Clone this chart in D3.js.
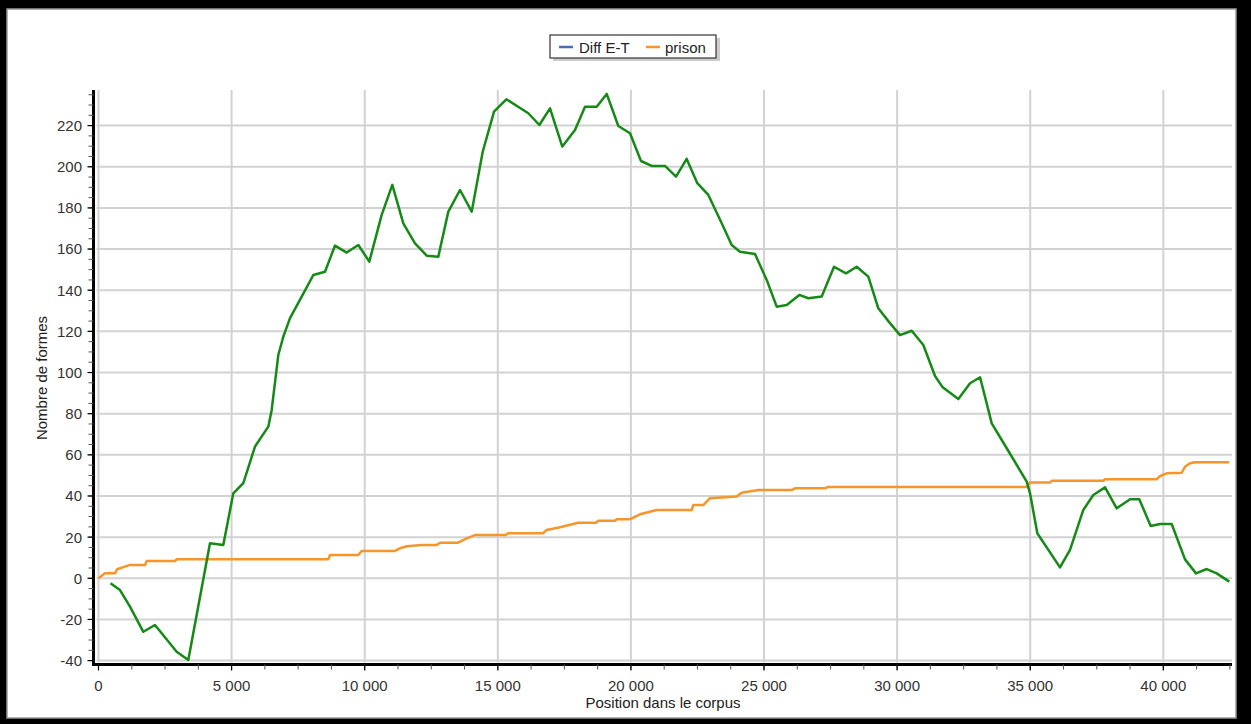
<!DOCTYPE html>
<html>
<head>
<meta charset="utf-8">
<script src="https://cdn.jsdelivr.net/npm/d3@7"></script>
<style>
  html, body { margin: 0; padding: 0; background: #000; }
  svg { display: block; font-family: "Liberation Sans", Arial, sans-serif; }
  .tick-label { font-size: 15px; fill: #333; }
  .axis-title { font-size: 15px; fill: #222; }
</style>
</head>
<body>
<div id="chart"></div>
<script>
// Series "Diff E-T" (drawn in green) : position in corpus / value
const diffPos = [450, 808, 1183, 1683, 2122, 2937, 3373, 4188, 4688, 5064, 5440, 5879, 6379, 6506, 6754,
  6942, 7194, 7633, 8070, 8509, 8884, 9323, 9760, 10173, 10638, 11037, 11450, 11890, 12329, 12765,
  13141, 13580, 14020, 14433, 14858, 15320, 16146, 16560, 16961, 17423, 17900, 18276, 18715, 19091,
  19527, 19966, 20379, 20781, 21281, 21694, 22096, 22495, 22908, 23411, 23786, 24098, 24662, 25101,
  25477, 25853, 26327, 26665, 27167, 27630, 28081, 28483, 28918, 29294, 29700, 30109, 30549, 30984,
  31424, 31700, 32300, 32740, 33116, 33554, 34118, 34868, 34993, 35267, 36119, 36495, 36995, 37370,
  37810, 38250, 38750, 39098, 39526, 39876, 40315, 40815, 41228, 41630, 42005, 42479];
const diffVal = [-2.4, -5.7, -13.8, -26, -22.7, -35.7, -39.7, 17, 16.2, 41.3, 46.2, 64, 73.7, 81.8, 108.5,
  117.4, 126.4, 136.9, 147.4, 149, 161.7, 158.3, 162, 153.9, 176.6, 191.2, 172.5, 162.8, 156.8, 156.3,
  178.2, 188.7, 178.2, 207.3, 226.8, 232.8, 226, 220.3, 228.4, 209.8, 217.9, 229.2, 229.2, 235.4,
  219.8, 216.3, 202.8, 200.4, 200.4, 195.2, 203.8, 192, 186.3, 172.5, 162, 158.7, 157.6, 145,
  132, 132.8, 137.7, 136.1, 136.9, 151.4, 148.2, 151.4, 146.6, 131.2, 124.5, 118.2, 120.3, 113.4,
  98.3, 93, 87.1, 94.8, 97.7, 75.3, 63.2, 47, 41.3, 21.9, 5.3, 13.8, 33.2, 40.5,
  44.2, 34, 38.4, 38.4, 25.4, 26.4, 26.4, 9.2, 2.4, 4.5, 2.4, -1.6];

// Series "prison" (orange)
const prisonPos = [0, 244, 620, 700, 1183, 1747, 1810, 2874, 2937, 8633, 8697, 9760, 9885, 11139, 11326,
  11577, 12141, 12700, 12829, 13500, 13831, 14143, 15300, 15395, 16700, 16837, 17337, 18024, 18700,
  18775, 19400, 19467, 19966, 20342, 20969, 22284, 22344, 22720, 22971, 23974, 24162, 24786, 26040,
  26165, 27300, 27400, 34868, 34993, 35747, 35809, 37746, 37810, 39752, 39876, 40128, 40691, 40815,
  41003, 41191, 42479];
const prisonVal = [0, 2.4, 2.4, 4.4, 6.5, 6.5, 8.4, 8.4, 9.2, 9.2, 11.3, 11.3, 13.3, 13.3, 14.6,
  15.6, 16.2, 16.2, 17.3, 17.3, 19.4, 21, 21, 21.9, 21.9, 23.5, 24.8, 27, 27,
  28, 28, 28.7, 28.7, 31.1, 33.2, 33.2, 35.6, 35.6, 38.9, 39.7, 41.6, 42.9, 42.9,
  43.7, 43.7, 44.4, 44.4, 46.5, 46.5, 47.4, 47.4, 48.1, 48.1, 49.7, 51, 51.3, 54.2,
  55.9, 56.4, 56.4];

const legendNames = ["Diff E-T", "prison"];
const legendColors = ["#4a6db3", "#f7952a"];
const xTicks = [0, 5000, 10000, 15000, 20000, 25000, 30000, 35000, 40000];
const yTicks = [-40, -20, 0, 20, 40, 60, 80, 100, 120, 140, 160, 180, 200, 220];

const W = 1251, H = 724;
const GREEN = "#168a16", ORANGE = "#f7952a";

const fr = d3.formatLocale({ decimal: ",", thousands: " ", grouping: [3], currency: ["", " €"], minus: "-" });
const fmt = fr.format(",d");

const svg = d3.select("#chart").append("svg").attr("width", W).attr("height", H);

// black frame + white page
svg.append("rect").attr("width", W).attr("height", H).attr("fill", "#000");
svg.append("rect").attr("x", 7).attr("y", 9).attr("width", 1229).attr("height", 709)
  .attr("fill", "#fff").attr("stroke", "#999").attr("stroke-width", 1.5);

const x = d3.scaleLinear().domain([0, 42580]).range([98.5, 1232]);
const y = d3.scaleLinear().domain([-40, 237.3]).range([660.6, 90]);

// grid
const grid = svg.append("g").attr("stroke", "#d2d2d2").attr("stroke-width", 2);
grid.selectAll("line.h").data(yTicks).join("line").attr("class", "h")
  .attr("x1", x(0) - 2).attr("x2", x.range()[1])
  .attr("y1", d => y(d)).attr("y2", d => y(d));
grid.selectAll("line.v").data(xTicks).join("line").attr("class", "v")
  .attr("x1", d => x(d)).attr("x2", d => x(d))
  .attr("y1", y.range()[1]).attr("y2", y(-40) + 2);

// axes
const yAxisX = 93.5, xAxisY = 664.5;
const axes = svg.append("g").attr("stroke", "#000");
axes.append("line").attr("x1", yAxisX).attr("x2", yAxisX).attr("y1", 90).attr("y2", xAxisY + 1.5)
  .attr("stroke-width", 3);
axes.append("line").attr("x1", yAxisX - 1.5).attr("x2", x.range()[1]).attr("y1", xAxisY).attr("y2", xAxisY)
  .attr("stroke-width", 3);

const yMinor = d3.range(-40, 237, 5);
axes.selectAll("line.ym").data(yMinor).join("line").attr("class", "ym")
  .attr("x1", yAxisX - 5).attr("x2", yAxisX)
  .attr("y1", d => y(d)).attr("y2", d => y(d))
  .attr("stroke", "#555").attr("stroke-width", 1);
axes.selectAll("line.yM").data(yTicks).join("line").attr("class", "yM")
  .attr("x1", yAxisX - 6).attr("x2", yAxisX)
  .attr("y1", d => y(d)).attr("y2", d => y(d)).attr("stroke-width", 1.2);

const xMinor = d3.range(0, 42580, 1250);
axes.selectAll("line.xm").data(xMinor).join("line").attr("class", "xm")
  .attr("x1", d => x(d)).attr("x2", d => x(d))
  .attr("y1", xAxisY).attr("y2", xAxisY + 5)
  .attr("stroke", "#555").attr("stroke-width", 1);
axes.selectAll("line.xM").data(xTicks).join("line").attr("class", "xM")
  .attr("x1", d => x(d)).attr("x2", d => x(d))
  .attr("y1", xAxisY).attr("y2", xAxisY + 6).attr("stroke-width", 1.2);

svg.append("g").selectAll("text").data(yTicks).join("text")
  .attr("class", "tick-label")
  .attr("x", 82).attr("y", d => y(d)).attr("dy", "0.36em")
  .attr("text-anchor", "end").text(d => fmt(d));

svg.append("g").selectAll("text").data(xTicks).join("text")
  .attr("class", "tick-label")
  .attr("x", d => x(d)).attr("y", 690.5)
  .attr("text-anchor", "middle").text(d => fmt(d));

svg.append("text").attr("class", "axis-title")
  .attr("transform", "translate(47,378) rotate(-90)")
  .attr("text-anchor", "middle").text("Nombre de formes");
svg.append("text").attr("class", "axis-title")
  .attr("x", 663).attr("y", 708)
  .attr("text-anchor", "middle").text("Position dans le corpus");

// lines
const line = d3.line().x(d => x(d[0])).y(d => y(d[1]));
const prisonData = d3.zip(prisonPos, prisonVal);
const diffData = d3.zip(diffPos, diffVal);

svg.append("path").attr("d", line(prisonData))
  .attr("fill", "none").attr("stroke", ORANGE).attr("stroke-width", 2.5)
  .attr("stroke-linejoin", "round");
svg.append("path").attr("d", line(diffData))
  .attr("fill", "none").attr("stroke", GREEN).attr("stroke-width", 2.5)
  .attr("stroke-linejoin", "round");

// legend
const lg = svg.append("g");
lg.append("rect").attr("x", 553).attr("y", 38).attr("width", 167).attr("height", 23)
  .attr("fill", "#aaa").attr("opacity", 0.6);
lg.append("rect").attr("x", 550).attr("y", 35).attr("width", 166).attr("height", 23)
  .attr("fill", "#fff").attr("stroke", "#333").attr("stroke-width", 1.2);
const items = [{ sx: 559, tx: 579 }, { sx: 646, tx: 665 }];
items.forEach((it, i) => {
  lg.append("line").attr("x1", it.sx).attr("x2", it.sx + 14).attr("y1", 47).attr("y2", 47)
    .attr("stroke", legendColors[i]).attr("stroke-width", 2.5);
  lg.append("text").attr("x", it.tx).attr("y", 52.5)
    .attr("font-size", 15).attr("fill", "#222").text(legendNames[i]);
});
</script>
</body>
</html>
